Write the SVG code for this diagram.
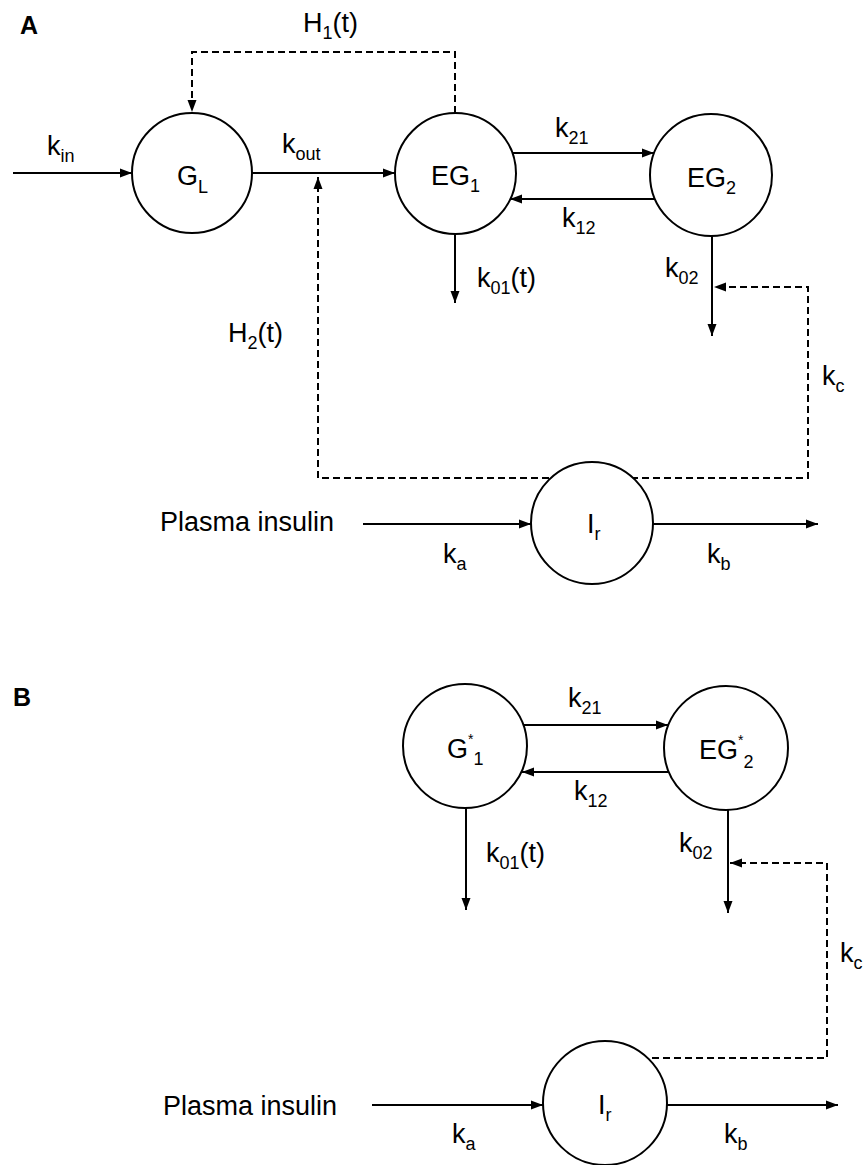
<svg xmlns="http://www.w3.org/2000/svg" width="868" height="1165" viewBox="0 0 868 1165">
<style>
text{font-family:"Liberation Sans",Arial,sans-serif;font-size:27px;fill:#000}
.sub{font-size:18px}
.sup{font-size:14px}
.panel{font-weight:bold;font-size:25px}
.node{fill:#fff;stroke:#000;stroke-width:2}
.flow{fill:none;stroke:#000;stroke-width:2}
.dash{fill:none;stroke:#000;stroke-width:2;stroke-dasharray:7,4}
</style>
<defs>
<marker id="ah" markerUnits="userSpaceOnUse" markerWidth="12" markerHeight="10" viewBox="0 0 12 10" refX="12" refY="5" orient="auto">
<path d="M0,0.5 L12,5 L0,9.5 Z" fill="#000"/>
</marker>
</defs>
<rect width="868" height="1165" fill="#fff"/>
<text class="panel" x="20" y="34">A</text>
<text class="panel" x="13" y="706">B</text>
<g id="connectors">
<line class="flow" x1="13" y1="173" x2="132" y2="173" marker-end="url(#ah)"/>
<line class="flow" x1="252" y1="173" x2="395" y2="173" marker-end="url(#ah)"/>
<path class="dash" d="M455,113 V52 H192 V112" marker-end="url(#ah)"/>
<path class="dash" d="M560,478 H318 V177" marker-end="url(#ah)"/>
<path class="dash" d="M620,478 H808 V287 H714" marker-end="url(#ah)"/>
<line class="flow" x1="512" y1="153" x2="654" y2="153" marker-end="url(#ah)"/>
<line class="flow" x1="654" y1="199" x2="510" y2="199" marker-end="url(#ah)"/>
<line class="flow" x1="455" y1="234" x2="455" y2="303" marker-end="url(#ah)"/>
<line class="flow" x1="712" y1="236" x2="712" y2="336" marker-end="url(#ah)"/>
<line class="flow" x1="363" y1="524" x2="531" y2="524" marker-end="url(#ah)"/>
<line class="flow" x1="653" y1="524" x2="818" y2="524" marker-end="url(#ah)"/>
<line class="flow" x1="524" y1="725" x2="668" y2="725" marker-end="url(#ah)"/>
<line class="flow" x1="668" y1="772" x2="522" y2="772" marker-end="url(#ah)"/>
<line class="flow" x1="466" y1="808" x2="466" y2="910" marker-end="url(#ah)"/>
<line class="flow" x1="728" y1="810" x2="728" y2="913" marker-end="url(#ah)"/>
<path class="dash" d="M630,1058 H827 V863 H730" marker-end="url(#ah)"/>
<line class="flow" x1="372" y1="1105" x2="543" y2="1105" marker-end="url(#ah)"/>
<line class="flow" x1="667" y1="1105" x2="838" y2="1105" marker-end="url(#ah)"/>
</g>
<g id="labels">
<text x="303" y="32">H<tspan class="sub" dy="7">1</tspan><tspan dy="-7">(t)</tspan></text>
<text x="47" y="155">k<tspan class="sub" dy="7">in</tspan></text>
<text x="282" y="153">k<tspan class="sub" dy="7">out</tspan></text>
<text x="555" y="137">k<tspan class="sub" dy="7">21</tspan></text>
<text x="562" y="227">k<tspan class="sub" dy="7">12</tspan></text>
<text x="477" y="287">k<tspan class="sub" dy="7">01</tspan><tspan dy="-7">(t)</tspan></text>
<text x="665" y="277">k<tspan class="sub" dy="7">02</tspan></text>
<text x="822" y="385">k<tspan class="sub" dy="7">c</tspan></text>
<text x="228" y="342">H<tspan class="sub" dy="7">2</tspan><tspan dy="-7">(t)</tspan></text>
<text x="160" y="531">Plasma insulin</text>
<text x="443" y="563">k<tspan class="sub" dy="7">a</tspan></text>
<text x="707" y="563">k<tspan class="sub" dy="7">b</tspan></text>
<text x="568" y="707">k<tspan class="sub" dy="7">21</tspan></text>
<text x="574" y="800">k<tspan class="sub" dy="7">12</tspan></text>
<text x="486" y="862">k<tspan class="sub" dy="7">01</tspan><tspan dy="-7">(t)</tspan></text>
<text x="679" y="852">k<tspan class="sub" dy="7">02</tspan></text>
<text x="840" y="962">k<tspan class="sub" dy="7">c</tspan></text>
<text x="163" y="1115">Plasma insulin</text>
<text x="452" y="1143">k<tspan class="sub" dy="7">a</tspan></text>
<text x="724" y="1143">k<tspan class="sub" dy="7">b</tspan></text>
</g>
<g id="node-GL">
<circle class="node" cx="192" cy="173" r="60"/>
<text x="177" y="185">G<tspan class="sub" dy="8">L</tspan></text>
</g>
<g id="node-EG1">
<circle class="node" cx="455.5" cy="173.5" r="60.5"/>
<text x="431" y="185">EG<tspan class="sub" dy="7">1</tspan></text>
</g>
<g id="node-EG2">
<circle class="node" cx="711" cy="175" r="61"/>
<text x="687" y="187">EG<tspan class="sub" dy="7">2</tspan></text>
</g>
<g id="node-Ir-A">
<circle class="node" cx="592" cy="523" r="61"/>
<text x="587" y="533">I<tspan class="sub" dy="7">r</tspan></text>
</g>
<g id="node-G1star">
<circle class="node" cx="465" cy="746" r="62"/>
<text x="447" y="758">G<tspan class="sup" dy="-14">*</tspan><tspan class="sub" dy="21">1</tspan></text>
</g>
<g id="node-EG2star">
<circle class="node" cx="726" cy="748" r="62"/>
<text x="699" y="759">EG<tspan class="sup" dy="-14">*</tspan><tspan class="sub" dy="23">2</tspan></text>
</g>
<g id="node-Ir-B">
<circle class="node" cx="605" cy="1103" r="62"/>
<text x="598" y="1114">I<tspan class="sub" dy="7">r</tspan></text>
</g>
</svg>
